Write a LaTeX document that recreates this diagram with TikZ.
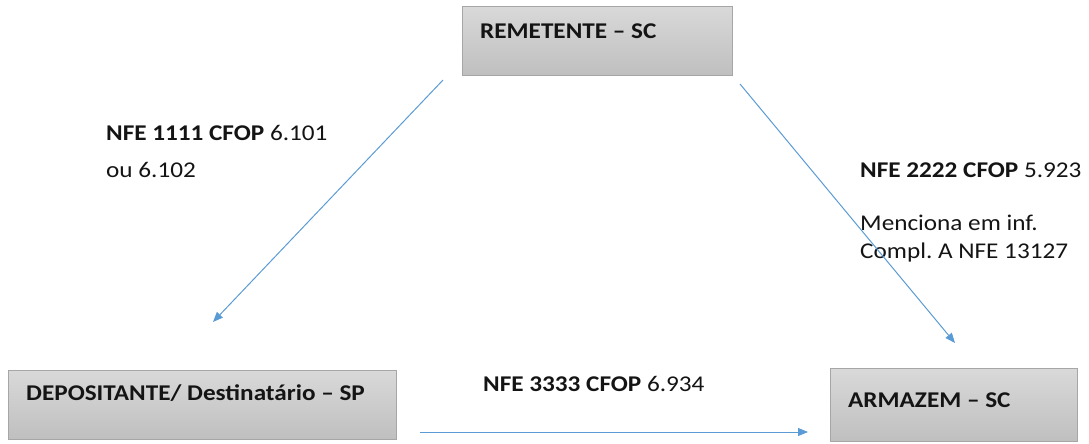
\documentclass[tikz,border=0pt]{standalone}
\usepackage{graphicx}
\usepackage{fontspec}
\setmainfont{Carlito}
\frenchspacing
\usetikzlibrary{arrows.meta}
\definecolor{linkblue}{HTML}{5B9BD5}
\definecolor{boxedge}{HTML}{A6A6A6}
\newcommand{\sx}[1]{\scalebox{1.12}[1]{#1}}
\tikzset{
  box/.style={draw=boxedge, line width=1pt, top color=black!15, bottom color=black!25, inner sep=0pt, anchor=north west},
  lbl/.style={anchor=base west, inner sep=0pt, font=\fontsize{22.5}{27}\selectfont, text=black!92},
  conn/.style={draw=linkblue, line width=1pt, -{Triangle[length=10pt,width=8pt]}},
}
\begin{document}
\begin{tikzpicture}[x=1pt,y=-1pt]
\useasboundingbox (0,0) rectangle (1089,444);
% boxes
\node[box, minimum width=270pt, minimum height=69pt] (rem) at (462,6) {};
\node[box, minimum width=388pt, minimum height=69pt] (dep) at (8,370) {};
\node[box, minimum width=247pt, minimum height=73pt] (arm) at (830,368) {};
\node[lbl] (remt) at (480,39) {\sx{\bfseries REMETENTE – SC}};
\node[lbl] (dept) at (26,400) {\sx{\bfseries DEPOSITANTE/ Destinatário – SP}};
\node[lbl] (armt) at (848,407) {\sx{\bfseries ARMAZEM – SC}};
% labels
\node[lbl] (l1a) at (106,140) {\sx{\textbf{NFE 1111 CFOP} 6.101}};
\node[lbl] (l1b) at (106,177) {\sx{ou 6.102}};
\node[lbl] (l2a) at (860,177) {\sx{\textbf{NFE 2222 CFOP} 5.923}};
\node[lbl] (l2b) at (860,230) {\sx{Menciona em inf.}};
\node[lbl] (l2c) at (860,258) {\sx{Compl. A NFE 13127}};
\node[lbl] (l3) at (483,391) {\sx{\textbf{NFE 3333 CFOP} 6.934}};
% connector ends
\coordinate (s1) at (443,80);
\coordinate (e1) at (213,322);
\coordinate (s2) at (740,84);
\coordinate (e2) at (955,343);
\coordinate (s3) at (420,432);
\coordinate (e3) at (808,432);
\draw[conn] (s1) -- (e1);
\draw[conn] (s2) -- (e2);
\draw[conn] (s3) -- (e3);
\end{tikzpicture}
\end{document}
